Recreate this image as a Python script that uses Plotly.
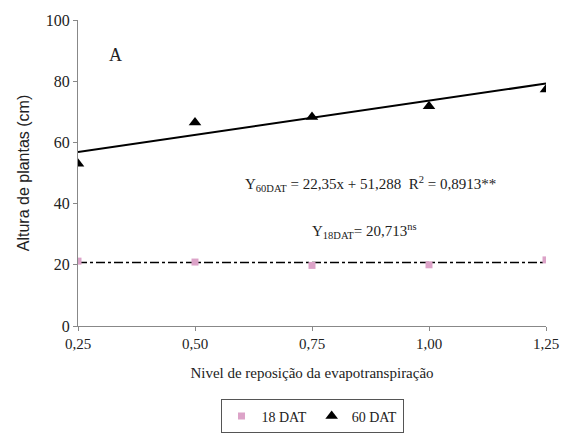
import plotly.graph_objects as go

# Irrigation replacement levels (fraction of evapotranspiration)
niveis = [0.25, 0.50, 0.75, 1.00, 1.25]
x_ticks = [0.25, 0.50, 0.75, 1.00, 1.25]
x_tick_text = ["0,25", "0,50", "0,75", "1,00", "1,25"]
y_ticks = [0, 20, 40, 60, 80, 100]

# Plant height (cm)
altura_18dat = [21.2, 20.9, 19.8, 20.0, 21.6]
altura_60dat = [53.0, 66.5, 68.3, 71.8, 77.3]

# Fitted models
a_60, b_60 = 22.35, 51.288
media_18 = 20.713

fit_60 = [a_60 * x + b_60 for x in niveis]
fit_18 = [media_18 for _ in niveis]

serif = "Liberation Serif, Times New Roman, Times, serif"
sans = "Liberation Sans, Arial, sans-serif"

fig = go.Figure()
fig.add_trace(go.Scatter(x=niveis, y=fit_18, mode="lines",
                         line=dict(color="black", width=1.5, dash="dashdot"),
                         showlegend=False, hoverinfo="skip"))
fig.add_trace(go.Scatter(x=niveis, y=fit_60, mode="lines",
                         line=dict(color="black", width=2),
                         showlegend=False, hoverinfo="skip"))
fig.add_trace(go.Scatter(x=niveis, y=altura_18dat, mode="markers", name="18 DAT",
                         marker=dict(symbol="square", size=7, color="#dca3c8")))
fig.add_trace(go.Scatter(x=niveis, y=altura_60dat, mode="markers", name="60 DAT",
                         marker=dict(symbol="triangle-up", size=11, color="black")))

fig.add_annotation(x=0.33, y=88.5, text="A", showarrow=False,
                   font=dict(family=serif, size=18, color="#222"))
fig.add_annotation(x=0.876, y=46.3, xanchor="center",
                   text="Y<sub>60DAT</sub> = 22,35x + 51,288  R<sup>2</sup> = 0,8913**",
                   showarrow=False, font=dict(family=serif, size=15, color="#222"))
fig.add_annotation(x=0.862, y=30.9, xanchor="center",
                   text="Y<sub>18DAT</sub>= 20,713<sup>ns</sup>",
                   showarrow=False, font=dict(family=serif, size=15, color="#222"))

fig.update_layout(
    width=563, height=435,
    margin=dict(l=78, r=17, t=20, b=109, autoexpand=False),
    plot_bgcolor="white", paper_bgcolor="white",
    font=dict(family=serif, size=15, color="#222"),
    showlegend=True,
    legend=dict(orientation="h", x=0.5, xanchor="center", y=-0.24, yanchor="top",
                bordercolor="#555", borderwidth=1, font=dict(family=serif, size=14),
                itemwidth=30, tracegroupgap=0),
    xaxis=dict(range=[0.25, 1.25], tickvals=x_ticks, ticktext=x_tick_text,
               showgrid=False, zeroline=False, showline=True, linecolor="#888",
               linewidth=1, ticks="outside", ticklen=4, tickcolor="#888",
               tickfont=dict(family=serif, size=15),
               title=dict(text="Nivel de reposição da evapotranspiração",
                          font=dict(family=serif, size=15), standoff=16)),
    yaxis=dict(range=[0, 100], tickvals=y_ticks, showgrid=False, zeroline=False,
               showline=True, linecolor="#888", linewidth=1, ticks="outside",
               ticklen=4, tickcolor="#888", tickfont=dict(family=serif, size=16),
               title=dict(text="Altura de plantas (cm)",
                          font=dict(family=sans, size=16), standoff=12)),
)

fig.write_html("out.html")
